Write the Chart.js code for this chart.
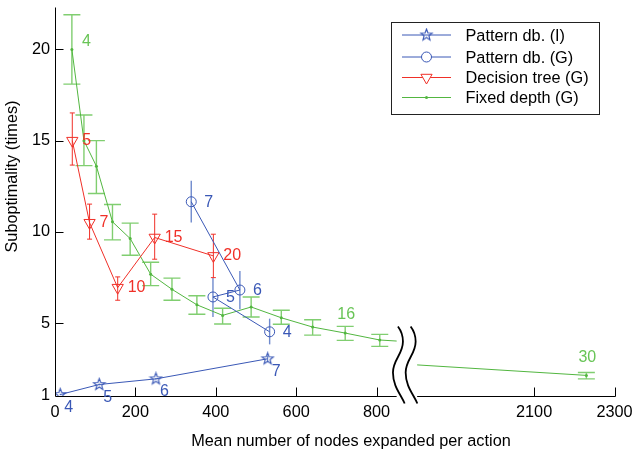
<!DOCTYPE html>
<html><head><meta charset="utf-8">
<script src="https://cdn.jsdelivr.net/npm/chart.js@4/dist/chart.umd.min.js"></script>
<style>html,body{margin:0;padding:0;background:#fff}#wrap{width:634px;height:454px}</style>
</head><body><div id="wrap"><canvas id="c" width="634" height="454"></canvas></div>
<script>
// ---------------- data ----------------
const xTickValues = [0, 200, 400, 600, 800, 2100, 2300];
const yTickValues = [1, 5, 10, 15, 20];

const patIDepth  = [4, 5, 6, 7];
const patINodes  = [13, 110, 251, 529];
const patISubopt = [1.08, 1.63, 1.94, 3.04];
const patILow    = [1.04, 1.58, 1.89, 2.85];
const patIHigh   = [1.12, 1.68, 1.99, 3.22];

const patGDepth  = [7, 6, 5, 4];
const patGNodes  = [339, 460, 393, 534];
const patGSubopt = [11.65, 6.81, 6.43, 4.52];
const patGLow    = [10.51, 5.75, 5.33, 3.83];
const patGHigh   = [12.80, 7.86, 7.49, 5.24];

const dtDepth  = [5, 7, 10, 15, 20];
const dtNodes  = [43, 86, 156, 248, 394];
const dtSubopt = [15.0, 10.5, 6.94, 9.69, 8.68];
const dtLow    = [13.66, 9.60, 6.25, 8.50, 7.49];
const dtHigh   = [16.52, 11.52, 7.53, 10.97, 9.87];

const fdDepth  = [4, 5, 6, 7, 8, 9, 10, 11, 12, 13, 14, 15, 16, 17, 30];
const fdNodes  = [42, 72, 103, 143, 187, 238, 291, 353, 417, 488, 563, 641, 722, 808, 2230];
const fdSubopt = [20.0, 15.0, 13.6, 10.55, 9.63, 7.68, 6.85, 6.0, 5.42, 5.88, 5.29, 4.78, 4.45, 4.07, 2.13];
const fdLow    = [18.1, 13.63, 12.1, 9.56, 8.72, 7.05, 6.25, 5.48, 4.95, 5.33, 4.93, 4.34, 4.05, 3.72, 1.94];
const fdHigh   = [21.9, 16.41, 15.0, 11.5, 10.48, 8.33, 7.46, 6.5, 5.81, 6.43, 5.70, 5.18, 4.82, 4.38, 2.29];
const fdShownLabels = [4, 16, 30];

// axis break (true x units)
const BREAK_LO = 850, BREAK_HI = 1809, SHIFT = 908, X_MAX = 2300;
const Y_MIN = 1, Y_MAX = 22.3;

// ---------------- styles ----------------
const BLUE = 'rgb(58,88,182)', BLUE_ERR = 'rgba(95,125,200,0.9)';
const RED = 'rgb(240,48,40)';
const GREEN = 'rgb(82,182,64)', GREEN_ERR = 'rgb(128,206,112)', GREEN_TXT = 'rgb(104,196,86)';
const FONT = '"Liberation Sans", Arial, Helvetica, sans-serif';

function compress(v) { return v > BREAK_LO ? v - SHIFT : v; }

function makeStar(color) {
  const c = document.createElement('canvas'); c.width = 15; c.height = 15;
  const g = c.getContext('2d'); g.strokeStyle = color; g.lineWidth = 1.1;
  g.beginPath();
  for (let k = 0; k < 10; k++) {
    const r = k % 2 === 0 ? 6 : 2.5, a = -Math.PI / 2 + k * Math.PI / 5;
    const px = 7.5 + r * Math.cos(a), py = 7.5 + r * Math.sin(a);
    k === 0 ? g.moveTo(px, py) : g.lineTo(px, py);
  }
  g.closePath(); g.stroke(); return c;
}
const starImg = makeStar(BLUE);

const pts = (xs, ys) => xs.map((x, i) => ({ x, y: ys[i] }));

const series = [
  { key: 'patI', label: 'Pattern db. (I)', nodes: patINodes, val: patISubopt, low: patILow, high: patIHigh, depth: patIDepth,
    color: BLUE, errColor: BLUE_ERR, errWidth: 1.2, cap: 0, txt: BLUE, lab: { align: 'left', dx: 4, dy: 13 } },
  { key: 'patG', label: 'Pattern db. (G)', nodes: patGNodes, val: patGSubopt, low: patGLow, high: patGHigh, depth: patGDepth,
    color: BLUE, errColor: BLUE_ERR, errWidth: 1.4, cap: 0, txt: BLUE, lab: { align: 'left', dx: 13, dy: 1 } },
  { key: 'dt', label: 'Decision tree (G)', nodes: dtNodes, val: dtSubopt, low: dtLow, high: dtHigh, depth: dtDepth,
    color: RED, errColor: RED, errWidth: 1, cap: 5, txt: RED, lab: { align: 'left', dx: 10, dy: 0 } },
  { key: 'fd', label: 'Fixed depth (G)', nodes: fdNodes, val: fdSubopt, low: fdLow, high: fdHigh, depth: fdDepth,
    color: GREEN, errColor: GREEN_ERR, errWidth: 1.4, cap: 17, txt: GREEN_TXT, lab: { align: 'center', dx: 1, dy: -18 },
    shown: fdShownLabels }
];

const datasets = [
  { label: 'Pattern db. (I)', data: pts(patINodes, patISubopt), borderColor: BLUE, backgroundColor: BLUE, borderWidth: 1,
    pointStyle: starImg, pointRadius: 6, xAxisID: 'x' },
  { label: 'Pattern db. (G)', data: pts(patGNodes, patGSubopt), borderColor: BLUE, backgroundColor: 'rgba(0,0,0,0)', borderWidth: 1,
    pointStyle: 'circle', pointRadius: 5, pointBorderWidth: 1, xAxisID: 'x' },
  { label: 'Decision tree (G)', data: pts(dtNodes, dtSubopt), borderColor: RED, backgroundColor: 'rgba(0,0,0,0)', borderWidth: 1,
    pointStyle: 'triangle', pointRotation: 180, pointRadius: 6.5, pointBorderWidth: 1, xAxisID: 'x' },
  { label: 'Fixed depth (G)', data: pts(fdNodes, fdSubopt), borderColor: GREEN, backgroundColor: GREEN, borderWidth: 1,
    pointStyle: 'circle', pointRadius: 1.5, pointBorderWidth: 0, xAxisID: 'x', breakSide: 'L' },
  { label: 'Fixed depth (G) ', data: pts(fdNodes, fdSubopt), borderColor: GREEN, backgroundColor: GREEN, borderWidth: 1,
    pointStyle: 'circle', pointRadius: 1.5, pointBorderWidth: 0, xAxisID: 'xR', breakSide: 'R' }
];

function scaleFor(chart, v) { return v > BREAK_LO ? chart.scales.xR : chart.scales.x; }

// clip green halves to their side of the break
const breakClip = {
  id: 'breakClip',
  beforeDatasetDraw(chart, args) {
    const ds = chart.data.datasets[args.index];
    if (!ds.breakSide) return;
    const a = chart.chartArea, ctx = chart.ctx;
    ctx.save(); ctx.beginPath();
    if (ds.breakSide === 'L') {
      const r = chart.scales.x.getPixelForValue(BREAK_LO);
      ctx.rect(a.left - 10, a.top - 10, r - a.left + 10, a.bottom - a.top + 20);
    } else {
      const l = chart.scales.xR.getPixelForValue(BREAK_HI);
      ctx.rect(l, a.top - 10, a.right + 10 - l, a.bottom - a.top + 20);
    }
    ctx.clip();
  },
  afterDatasetDraw(chart, args) {
    const ds = chart.data.datasets[args.index];
    if (ds.breakSide) chart.ctx.restore();
  }
};

// error bars
const errorBars = {
  id: 'errorBars',
  beforeDatasetsDraw(chart) {
    const ctx = chart.ctx, y = chart.scales.y;
    ctx.save();
    series.forEach(s => {
      ctx.strokeStyle = s.errColor; ctx.lineWidth = s.errWidth;
      s.nodes.forEach((n, i) => {
        const px = scaleFor(chart, n).getPixelForValue(n);
        const yt = y.getPixelForValue(s.high[i]), yb = y.getPixelForValue(s.low[i]);
        ctx.beginPath(); ctx.moveTo(px, yt); ctx.lineTo(px, yb);
        if (s.cap) {
          ctx.moveTo(px - s.cap / 2, yt); ctx.lineTo(px + s.cap / 2, yt);
          ctx.moveTo(px - s.cap / 2, yb); ctx.lineTo(px + s.cap / 2, yb);
        }
        ctx.stroke();
      });
    });
    ctx.restore();
  }
};

// axes, ticks, break marks, titles, data labels, legend
const decor = {
  id: 'decor',
  afterDraw(chart) {
    const ctx = chart.ctx, a = chart.chartArea, xs = chart.scales.x, xr = chart.scales.xR, ys = chart.scales.y;
    ctx.save();
    ctx.strokeStyle = '#000'; ctx.lineWidth = 1;
    const yb = Math.round(a.bottom) + 0.5, xl = Math.round(a.left) + 0.5;
    const bL = xs.getPixelForValue(BREAK_LO), bR = xr.getPixelForValue(BREAK_HI);
    ctx.beginPath();
    ctx.moveTo(xl, a.top); ctx.lineTo(xl, yb);
    ctx.moveTo(xl, yb); ctx.lineTo(bL, yb);
    ctx.moveTo(bR, yb); ctx.lineTo(Math.round(a.right) + 0.5, yb);
    // x ticks (inward)
    xTickValues.forEach(v => {
      if (v === 0) return;
      const px = Math.round(scaleFor(chart, v).getPixelForValue(v)) + 0.5;
      ctx.moveTo(px, yb); ctx.lineTo(px, yb - 9);
    });
    // y ticks (inward)
    yTickValues.forEach(v => {
      if (v === Y_MIN) return;
      const py = Math.round(ys.getPixelForValue(v)) + 0.5;
      ctx.moveTo(xl, py); ctx.lineTo(xl + 8, py);
    });
    ctx.stroke();

    // break marks
    ctx.lineWidth = 1.8;
    [bL + 1.3, bL + 14].forEach(x0 => {
      const t = yb - 70;
      ctx.beginPath();
      ctx.moveTo(x0, t);
      ctx.bezierCurveTo(x0 + 3, t + 4, x0 + 5, t + 8, x0 + 5, t + 15);
      ctx.bezierCurveTo(x0 + 5, t + 28, x0 - 5, t + 33, x0 - 5, t + 46);
      ctx.bezierCurveTo(x0 - 5, t + 60, x0 + 3, t + 68, x0 + 6.7, t + 77);
      ctx.stroke();
    });

    // axis titles
    ctx.fillStyle = '#000';
    ctx.font = '16.3px ' + FONT;
    ctx.textAlign = 'center'; ctx.textBaseline = 'middle';
    ctx.fillText('Mean number of nodes expanded per action', 351, 442);
    ctx.save(); ctx.translate(13, 176.5); ctx.rotate(-Math.PI / 2);
    ctx.fillText('Suboptimality (times)', 0, 0); ctx.restore();

    // data labels
    ctx.font = '16px ' + FONT;
    series.forEach(s => {
      ctx.fillStyle = s.txt; ctx.textAlign = s.lab.align; ctx.textBaseline = 'middle';
      s.depth.forEach((d, i) => {
        if (s.shown && !s.shown.includes(d)) return;
        const n = s.nodes[i];
        const px = scaleFor(chart, n).getPixelForValue(n), py = ys.getPixelForValue(s.val[i]);
        let dx = s.lab.dx, dy = s.lab.dy, al = s.lab.align;
        if (s.key === 'fd' && i === 0) { dx = 10; dy = -8; al = 'left'; }
        ctx.textAlign = al;
        ctx.fillText(String(d), px + dx, py + dy);
      });
    });

    // legend
    const L = { x: 391.5, y: 22.5, w: 208, h: 92 };
    ctx.strokeStyle = '#222'; ctx.lineWidth = 1;
    ctx.fillStyle = '#fff';
    ctx.fillRect(L.x, L.y, L.w, L.h);
    ctx.strokeRect(L.x, L.y, L.w, L.h);
    const rows = [35, 57, 77.5, 97.5];
    const sx0 = 402, sx1 = 451, mx = 426.5;
    ctx.font = '16.3px ' + FONT; ctx.textAlign = 'left'; ctx.textBaseline = 'middle';
    series.forEach((s, i) => {
      const ry = rows[i];
      ctx.strokeStyle = s.color; ctx.lineWidth = 1;
      ctx.beginPath(); ctx.moveTo(sx0, ry); ctx.lineTo(sx1, ry); ctx.stroke();
      if (s.key === 'patI') ctx.drawImage(starImg, mx - 7.5, ry - 7.5);
      else if (s.key === 'patG') { ctx.fillStyle = '#fff'; ctx.beginPath(); ctx.arc(mx, ry, 5, 0, Math.PI * 2); ctx.fill(); ctx.stroke(); }
      else if (s.key === 'dt') {
        ctx.fillStyle = '#fff'; ctx.beginPath();
        ctx.moveTo(mx - 5.6, ry - 3.2); ctx.lineTo(mx + 5.6, ry - 3.2); ctx.lineTo(mx, ry + 6.5); ctx.closePath(); ctx.fill(); ctx.stroke();
      } else { ctx.fillStyle = s.color; ctx.beginPath(); ctx.arc(mx, ry, 1.5, 0, Math.PI * 2); ctx.fill(); }
      ctx.fillStyle = '#000';
      ctx.fillText(s.label, 465.5, ry + 1.5);
    });
    ctx.restore();
  }
};

new Chart(document.getElementById('c'), {
  type: 'line',
  data: { datasets },
  options: {
    responsive: false, animation: false, devicePixelRatio: 1,
    events: [],
    layout: { padding: { top: 7, right: 19.5, left: 0, bottom: 0 } },
    elements: { line: { tension: 0, fill: false } },
    plugins: { legend: { display: false }, tooltip: { enabled: false } },
    scales: {
      x: {
        type: 'linear', position: 'bottom', min: 0, max: X_MAX - SHIFT,
        afterBuildTicks: s => { s.ticks = xTickValues.map(v => ({ value: compress(v) })); },
        afterFit: s => { s.height = 58; s.paddingLeft = 0; s.paddingRight = 0; },
        grid: { display: false, drawTicks: false }, border: { display: false },
        ticks: { autoSkip: false, maxRotation: 0, padding: 7, color: '#000',
          font: { size: 16.3, family: FONT },
          callback: (v, i) => String(xTickValues[i]) }
      },
      xR: { type: 'linear', position: 'bottom', min: SHIFT, max: X_MAX, display: false },
      y: {
        type: 'linear', min: Y_MIN, max: Y_MAX,
        afterBuildTicks: s => { s.ticks = yTickValues.map(v => ({ value: v })); },
        afterFit: s => { s.width = 55; s.paddingTop = 0; s.paddingBottom = 0; },
        grid: { display: false, drawTicks: false }, border: { display: false },
        ticks: { padding: 5, color: '#000', font: { size: 16.3, family: FONT },
          callback: (v, i) => String(yTickValues[i]) }
      }
    }
  },
  plugins: [breakClip, errorBars, decor]
});
</script></body></html>
